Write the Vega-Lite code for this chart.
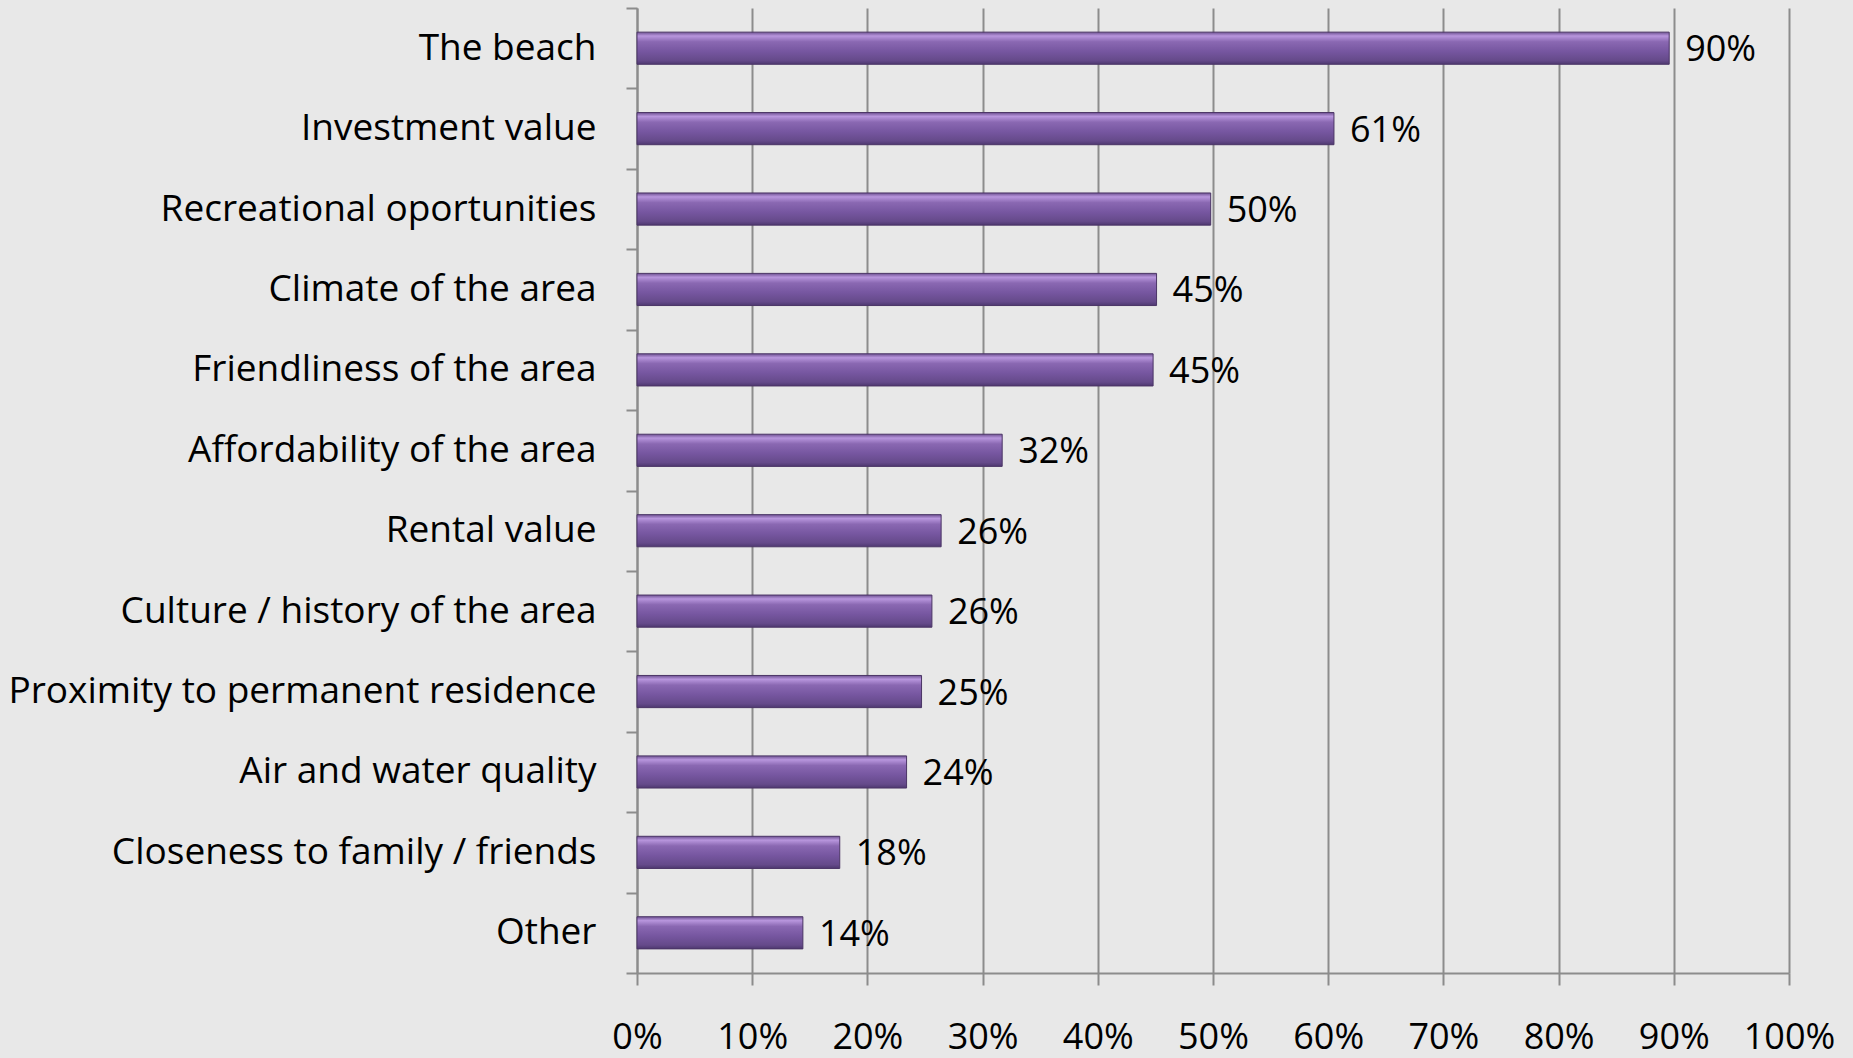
{
  "$schema": "https://vega.github.io/schema/vega-lite/v6.json",
  "autosize": {"type": "none"},
  "padding": {"left": 637, "top": 8, "right": 64, "bottom": 85},
  "width": 1152,
  "height": 965,
  "background": "#e8e8e8",
  "config": {"view": {"stroke": null}, "font": "Open Sans"},
  "data": {
    "values": [
      {"reason": "The beach", "pct": 89.6, "label": "90%"},
      {"reason": "Investment value", "pct": 60.5, "label": "61%"},
      {"reason": "Recreational oportunities", "pct": 49.8, "label": "50%"},
      {"reason": "Climate of the area", "pct": 45.1, "label": "45%"},
      {"reason": "Friendliness of the area", "pct": 44.8, "label": "45%"},
      {"reason": "Affordability of the area", "pct": 31.7, "label": "32%"},
      {"reason": "Rental value", "pct": 26.4, "label": "26%"},
      {"reason": "Culture / history of the area", "pct": 25.6, "label": "26%"},
      {"reason": "Proximity to permanent residence", "pct": 24.7, "label": "25%"},
      {"reason": "Air and water quality", "pct": 23.4, "label": "24%"},
      {"reason": "Closeness to family / friends", "pct": 17.6, "label": "18%"},
      {"reason": "Other", "pct": 14.4, "label": "14%"}
    ]
  },
  "encoding": {
    "y": {
      "field": "reason", "type": "nominal", "sort": null, "title": null,
      "scale": {"paddingInner": 0, "paddingOuter": 0},
      "axis": {
        "labelFontSize": 37, "labelColor": "#000000", "labelPadding": 30,
        "tickBand": "extent", "tickSize": 11, "tickColor": "#8c8c8c", "tickWidth": 2,
        "domainColor": "#8c8c8c", "domainWidth": 2, "labelLimit": 700
      }
    },
    "x": {
      "field": "pct", "type": "quantitative", "title": null,
      "scale": {"domain": [0, 100], "nice": false},
      "axis": {
        "values": [0, 10, 20, 30, 40, 50, 60, 70, 80, 90, 100],
        "labelExpr": "datum.value + '%'",
        "labelFontSize": 36, "labelColor": "#000000", "labelPadding": 35,
        "tickSize": 12, "tickColor": "#8c8c8c", "tickWidth": 2,
        "domainColor": "#8c8c8c", "domainWidth": 2,
        "grid": true, "gridColor": "#8c8c8c", "gridWidth": 2,
        "labelFlush": false
      }
    }
  },
  "layer": [
    {
      "mark": {
        "type": "bar",
        "height": {"band": 0.4},
        "stroke": "#4b3566",
        "strokeWidth": 1,
        "color": {
          "gradient": "linear", "x1": 0, "y1": 0, "x2": 0, "y2": 1,
          "stops": [
            {"offset": 0, "color": "#6e5192"},
            {"offset": 0.12, "color": "#b896dd"},
            {"offset": 0.3, "color": "#8a68b2"},
            {"offset": 0.6, "color": "#7656a0"},
            {"offset": 0.88, "color": "#654a8a"},
            {"offset": 1, "color": "#4e3870"}
          ]
        }
      }
    },
    {
      "mark": {"type": "text", "align": "left", "baseline": "middle", "dx": 16, "dy": 2, "fontSize": 36, "color": "#000000"},
      "encoding": {"text": {"field": "label"}}
    }
  ]
}
